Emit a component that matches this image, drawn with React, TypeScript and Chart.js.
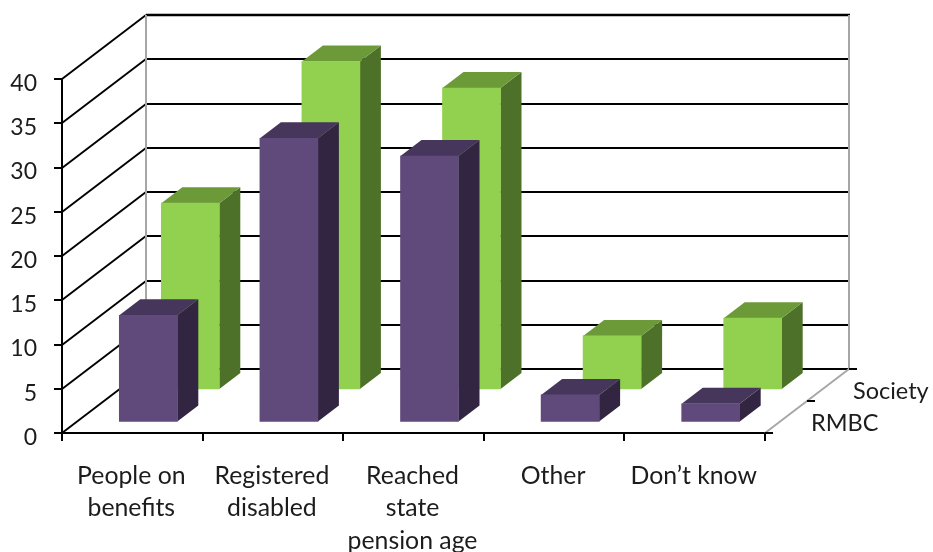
import React, { useEffect, useRef } from "react";
import { Chart, registerables } from "chart.js";

Chart.register(...registerables);

const categories = [
  ["People on", "benefits"],
  ["Registered", "disabled"],
  ["Reached", "state", "pension age"],
  ["Other"],
  ["Don’t know"],
];
const seriesNames = ["RMBC", "Society"];
const rmbcValues = [12, 32, 30, 3, 2];
const societyValues = [21, 37, 34, 6, 8];
const yTicks = [0, 5, 10, 15, 20, 25, 30, 35, 40];

const FONT = "Lato, Carlito, sans-serif";
const TEXT = "#1c1c1c";
const DEPTH_X = 84;
const DEPTH_Y = -64;
// Position of each series row along the floor's depth, plus the bar's own depth.
const ROW_SHIFT = [
  { x: 16, y: -11.5 },
  { x: 58, y: -44 },
];
const BAR_DEPTH = { x: 21, y: -16 };
const FACES = [
  { side: "#322541", top: "#47365B" },
  { side: "#4D7128", top: "#6D9A38" },
];

const line = (ctx, x1, y1, x2, y2, color, width) => {
  ctx.strokeStyle = color;
  ctx.lineWidth = width;
  ctx.beginPath();
  ctx.moveTo(x1, y1);
  ctx.lineTo(x2, y2);
  ctx.stroke();
};

const poly = (ctx, points, fill) => {
  ctx.fillStyle = fill;
  ctx.beginPath();
  points.forEach(([x, y], i) => (i ? ctx.lineTo(x, y) : ctx.moveTo(x, y)));
  ctx.closePath();
  ctx.fill();
};

// Draws the walls, the floor and the depth axis behind the bars, and gives
// every bar its side and top faces.
const box3d = {
  id: "box3d",
  afterDatasetUpdate(chart, args) {
    // Bars stand on the zero line itself, without the half-grid-line inset.
    const zero = chart.scales.y.getPixelForValue(0);
    args.meta.data.forEach((bar) => {
      bar.base = zero;
    });
  },
  beforeDatasetsDraw(chart) {
    const { ctx, chartArea: a, scales } = chart;
    ctx.save();
    yTicks.forEach((v) => {
      const y = Math.round(scales.y.getPixelForValue(v));
      const w = v === 40 ? 2.4 : 2;
      line(ctx, a.left, y, a.left + DEPTH_X, y + DEPTH_Y, "#000", 2);
      line(ctx, a.left + DEPTH_X, y + DEPTH_Y, a.right + DEPTH_X + 1, y + DEPTH_Y, "#000", w);
    });
    const backTop = a.top + DEPTH_Y;
    const backBottom = a.bottom + DEPTH_Y;
    line(ctx, a.left + DEPTH_X, backTop, a.left + DEPTH_X, backBottom, "#a6a6a6", 2);
    line(ctx, a.right + DEPTH_X, backTop, a.right + DEPTH_X, backBottom, "#a6a6a6", 2);
    line(ctx, a.right, a.bottom, a.right + DEPTH_X, backBottom, "#a6a6a6", 2);

    // Depth axis: one tick at each end and one between the two series rows.
    [0, 0.5, 1].forEach((t) => {
      const x = a.right + DEPTH_X * t;
      const y = Math.round(a.bottom + DEPTH_Y * t);
      line(ctx, x, y, x + 8, y, "#000", 2);
    });
    ctx.fillStyle = TEXT;
    ctx.font = `23.5px ${FONT}`;
    ctx.textAlign = "left";
    ctx.textBaseline = "middle";
    ctx.fillText(seriesNames[0], 811, 423);
    ctx.fillText(seriesNames[1], 853, 391);
    ctx.restore();
  },
  beforeDatasetDraw(chart, args) {
    const { ctx } = chart;
    const shift = ROW_SHIFT[args.index];
    const face = FACES[args.index];
    ctx.save();
    ctx.translate(shift.x, shift.y);
    args.meta.data.forEach((bar) => {
      const { x, y, base, width } = bar.getProps(["x", "y", "base", "width"], true);
      const l = x - width / 2;
      const r = x + width / 2;
      const d = BAR_DEPTH;
      poly(ctx, [[r, y], [r + d.x, y + d.y], [r + d.x, base + d.y], [r, base]], face.side);
      poly(ctx, [[l, y], [l + d.x, y + d.y], [r + d.x, y + d.y], [r, y]], face.top);
    });
  },
  afterDatasetDraw(chart) {
    chart.ctx.restore();
  },
};

export default function App() {
  const ref = useRef<HTMLCanvasElement>(null);

  useEffect(() => {
    const chart = new Chart(ref.current, {
      type: "bar",
      data: {
        labels: categories,
        datasets: [
          { label: seriesNames[0], data: rmbcValues, backgroundColor: "#604A7B" },
          { label: seriesNames[1], data: societyValues, backgroundColor: "#92D050" },
        ],
      },
      plugins: [box3d],
      options: {
        animation: false,
        responsive: false,
        layout: { padding: { top: 79, right: 168, left: 0, bottom: 0 } },
        datasets: { bar: { grouped: false, barThickness: 58, clip: false } },
        plugins: { legend: { display: false }, tooltip: { enabled: false } },
        scales: {
          x: {
            grid: { drawOnChartArea: false, color: "#000", lineWidth: 2, tickLength: 8 },
            border: { color: "#000", width: 2 },
            ticks: {
              color: TEXT,
              font: { family: FONT, size: 24.8, lineHeight: 1.31 },
              padding: 18.5,
              labelOffset: -1,
              maxRotation: 0,
              autoSkip: false,
            },
            afterFit(scale) {
              scale.height = 119;
            },
          },
          y: {
            min: 0,
            max: 40,
            afterBuildTicks(scale) {
              scale.ticks = yTicks.map((value) => ({ value }));
            },
            grid: { drawOnChartArea: false, color: "#000", lineWidth: 2, tickLength: 8 },
            border: { color: "#000", width: 2 },
            ticks: {
              color: TEXT,
              font: { family: FONT, size: 23 },
              padding: 17,
              labelOffset: 4.5,
            },
            afterFit(scale) {
              scale.width = 62;
            },
          },
        },
      },
    });
    return () => chart.destroy();
  }, []);

  return (
    <canvas
      ref={ref}
      width={933}
      height={552}
      style={{ position: "fixed", left: 0, top: 0, display: "block", background: "#fff" }}
    />
  );
}
